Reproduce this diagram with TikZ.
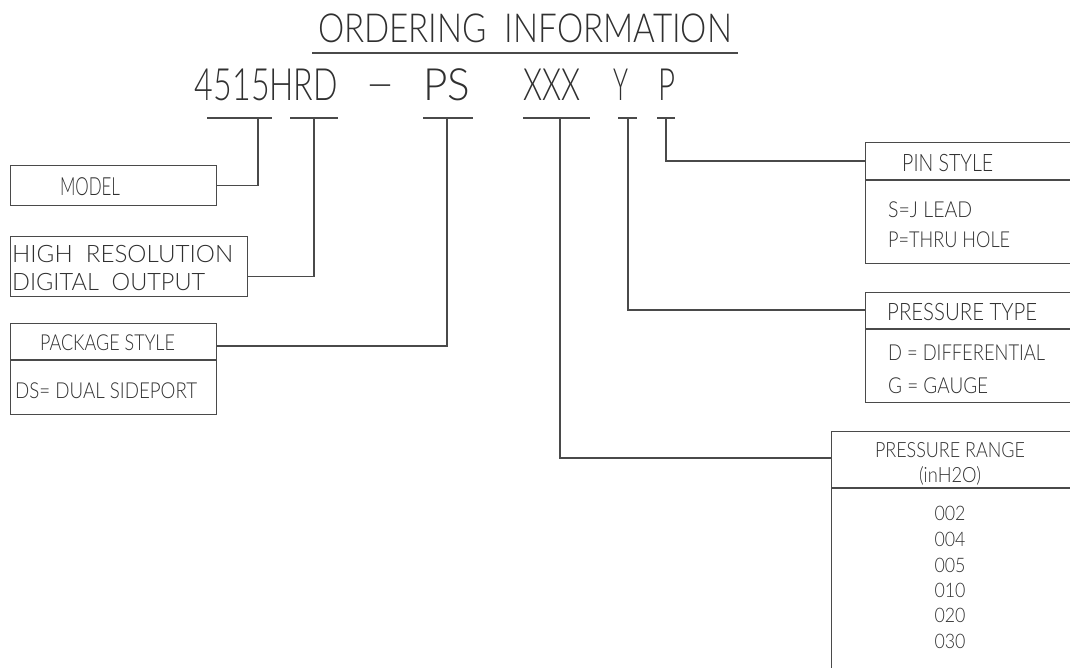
\documentclass[tikz,border=0pt]{standalone}
\usepackage{fontspec}
\setmainfont{Lato Light}
\usepackage{graphicx}
\newcommand\fitto[2]{\resizebox{#1}{\height}{#2}}
\definecolor{ln}{HTML}{4A4A4A}
\definecolor{tx}{HTML}{303030}
\begin{document}
\begin{tikzpicture}[x=1pt,y=-1pt,
  box/.style={draw=ln, line width=1.1pt, rectangle, inner sep=0pt, anchor=north west},
  wire/.style={draw=ln, line width=1.1pt},
  txt/.style={inner sep=0pt, text=tx, anchor=base west},
  ctxt/.style={inner sep=0pt, text=tx, anchor=base}]
\clip (0,0) rectangle (1070,667);
\fill[white] (0,0) rectangle (1070,667);
% title
\node[ctxt, font=\fontsize{40}{40}\selectfont] (title) at (525,42) {\fitto{414pt}{ORDERING\ \ INFORMATION}};
\draw[wire] (312,53) -- (738,53);
% code
\begin{scope}[every node/.style={ctxt, font=\fontsize{44.5}{44.5}\selectfont}]
\node (c1) at (266.5,100) {\fitto{143pt}{4515HRD}};
\node (cd) at (380,98) {\fitto{30pt}{–}};
\node (c2) at (446.5,100) {\fitto{47pt}{PS}};
\node (c3) at (551.5,100) {\fitto{57pt}{XXX}};
\node (c4) at (620.5,100) {\fitto{15pt}{Y}};
\node (c5) at (666.5,100) {\fitto{17pt}{P}};
\end{scope}
% underlines
\draw[wire] (207,118) -- (272,118);
\draw[wire] (290,118) -- (338,118);
\draw[wire] (423,118) -- (473,118);
\draw[wire] (523,118) -- (590,118);
\draw[wire] (618,118) -- (637,118);
\draw[wire] (657,118) -- (675,118);
\coordinate (u1) at (258,118);
\coordinate (u2) at (314,118);
\coordinate (u3) at (447,118);
\coordinate (u4) at (560,118);
\coordinate (u5) at (628,118);
\coordinate (u6) at (666,118);
% left boxes
\node[box, minimum width=206pt, minimum height=40pt] (model) at (10,165) {};
\node[ctxt, font=\fontsize{25}{25}\selectfont] (tmodel) at (90,195) {\fitto{60pt}{MODEL}};
\node[box, minimum width=237pt, minimum height=60pt] (hres) at (10,236) {};
\node[txt, font=\fontsize{24}{24}\selectfont] (th1) at (12,262) {\fitto{221pt}{HIGH\ \ RESOLUTION}};
\node[txt, font=\fontsize{24}{24}\selectfont] (th2) at (12,290) {\fitto{193pt}{DIGITAL\ \ OUTPUT}};
\node[box, minimum width=206pt, minimum height=91pt] (pkg) at (10,323) {};
\draw[wire] (10,360) -- (216,360);
\node[ctxt, font=\fontsize{22}{22}\selectfont] (tpkg) at (107.5,350) {\fitto{135pt}{PACKAGE STYLE}};
\node[txt, font=\fontsize{22}{22}\selectfont] (tds) at (15,398) {\fitto{182pt}{DS= DUAL SIDEPORT}};
% right boxes
\node[box, minimum width=230pt, minimum height=121pt] (pin) at (865,142) {};
\draw[wire] (865,180) -- (1080,180);
\node[txt, font=\fontsize{24}{24}\selectfont] (tpin) at (902,171) {\fitto{91pt}{PIN STYLE}};
\node[txt, font=\fontsize{22}{22}\selectfont] (tps) at (888,217) {\fitto{84pt}{S=J LEAD}};
\node[txt, font=\fontsize{22}{22}\selectfont] (tpp) at (888,247) {\fitto{122pt}{P=THRU HOLE}};
\node[box, minimum width=230pt, minimum height=110pt] (typ) at (865,292) {};
\draw[wire] (865,329) -- (1080,329);
\node[txt, font=\fontsize{24}{24}\selectfont] (ttyp) at (887,320) {\fitto{150pt}{PRESSURE TYPE}};
\node[txt, font=\fontsize{22}{22}\selectfont] (ttd) at (888,360) {\fitto{157pt}{D = DIFFERENTIAL}};
\node[txt, font=\fontsize{22}{22}\selectfont] (ttg) at (888,393) {\fitto{100pt}{G = GAUGE}};
\node[box, minimum width=260pt, minimum height=260pt] (rng) at (831,431) {};
\draw[wire] (831,488) -- (1080,488);
\node[ctxt, font=\fontsize{21}{21}\selectfont] (trng) at (950,457) {\fitto{150pt}{PRESSURE RANGE}};
\node[ctxt, font=\fontsize{21}{21}\selectfont] (tunit) at (950,482) {\fitto{62pt}{(inH2O)}};
\begin{scope}[every node/.style={ctxt, font=\fontsize{20}{20}\selectfont}]
\node (n1) at (950,520) {\fitto{31pt}{002}};
\node (n2) at (950,546) {\fitto{31pt}{004}};
\node (n3) at (950,572) {\fitto{31pt}{005}};
\node (n4) at (950,597) {\fitto{31pt}{010}};
\node (n5) at (950,622) {\fitto{31pt}{020}};
\node (n6) at (950,648) {\fitto{31pt}{030}};
\end{scope}
% connectors
\draw[wire] (model.east) -| (u1);
\draw[wire] ([yshift=-10pt]hres.east) -| (u2);
\draw[wire] ([yshift=-23pt]pkg.north east) -| (u3);
\draw[wire] (u4) |- ([yshift=-27pt]rng.north west);
\draw[wire] (u5) |- ([yshift=-18pt]typ.north west);
\draw[wire] (u6) |- ([yshift=-19pt]pin.north west);
\end{tikzpicture}
\end{document}
